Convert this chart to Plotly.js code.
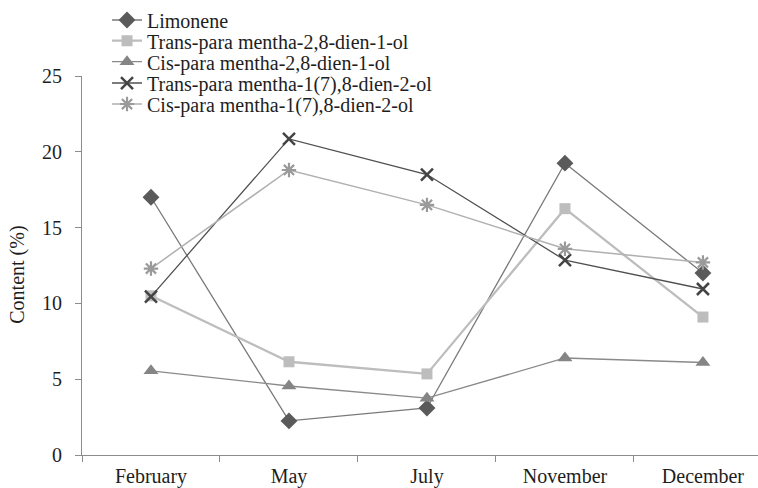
<!DOCTYPE html>
<html><head><meta charset="utf-8">
<script src="https://cdn.plot.ly/plotly-3.0.1.min.js"></script>
<style>html,body{margin:0;padding:0;overflow:hidden;background:#fff}</style>
</head><body><div id="chart" style="width:758px;height:488px"></div>
<script>
const months = ["February", "May", "July", "November", "December"];
const limonene = [17.0, 2.25, 3.1, 19.25, 12.0];
const transDien1ol = [10.5, 6.15, 5.35, 16.25, 9.1];
const cisDien1ol = [5.55, 4.55, 3.75, 6.4, 6.1];
const transDien2ol = [10.45, 20.85, 18.5, 12.85, 10.95];
const cisDien2ol = [12.3, 18.8, 16.5, 13.6, 12.7];
const seriesNames = [
  "Limonene",
  "Trans-para mentha-2,8-dien-1-ol",
  "Cis-para mentha-2,8-dien-1-ol",
  "Trans-para mentha-1(7),8-dien-2-ol",
  "Cis-para mentha-1(7),8-dien-2-ol"
];
const yTicks = [0, 5, 10, 15, 20, 25];

const font = "Liberation Serif, Times New Roman, serif";
const txt = "#1e1e1e";
const traces = [
  {x: months, y: limonene, name: seriesNames[0], legend: "legend", mode: "lines+markers",
   line: {color: "#7a7a7a", width: 1.3},
   marker: {symbol: "diamond", size: 13, color: "#5a5a5a"}},
  {x: months, y: transDien1ol, name: seriesNames[1], legend: "legend2", mode: "lines+markers",
   line: {color: "#bdbdbd", width: 2.3},
   marker: {symbol: "square", size: 11, color: "#bdbdbd"}},
  {x: months, y: cisDien1ol, name: seriesNames[2], legend: "legend3", mode: "lines+markers",
   line: {color: "#8a8a8a", width: 1.3},
   marker: {symbol: "triangle-up", size: 13, color: "#858585"}},
  {x: months, y: transDien2ol, name: seriesNames[3], legend: "legend4", mode: "lines+markers",
   line: {color: "#505050", width: 1.3},
   marker: {symbol: "x-thin-open", size: 12, color: "#444444", line: {width: 2.5, color: "#444444"}}},
  {x: months, y: cisDien2ol, name: seriesNames[4], legend: "legend5", mode: "lines+markers",
   line: {color: "#b0b0b0", width: 1.5},
   marker: {symbol: "asterisk-open", size: 12, color: "#9a9a9a", line: {width: 2.2, color: "#9a9a9a"}}}
];

function leg(y) {
  return {x: 0.037, y: y, xanchor: "left", yanchor: "middle",
          bgcolor: "rgba(0,0,0,0)", font: {family: font, size: 20, color: txt}};
}

const layout = {
  width: 758, height: 488,
  margin: {l: 82, r: 0, t: 76, b: 33},
  paper_bgcolor: "#fff", plot_bgcolor: "#fff",
  font: {family: font, size: 20, color: txt},
  showlegend: true,
  legend: leg(1.1478), legend2: leg(1.0931), legend3: leg(1.0377),
  legend4: leg(0.9815), legend5: leg(0.9261),
  xaxis: {type: "category", range: [-0.5, 4.399], tickson: "boundaries",
          showline: true, linecolor: "#8c8c8c", linewidth: 1,
          ticks: "outside", ticklen: 6, tickcolor: "#8c8c8c",
          ticklabelstandoff: 3,
          showgrid: false, zeroline: false,
          tickfont: {family: font, size: 20, color: txt}},
  yaxis: {range: [0, 25], tickvals: yTicks,
          showline: true, linecolor: "#8c8c8c", linewidth: 1,
          ticks: "outside", ticklen: 6, tickcolor: "#8c8c8c",
          ticklabelstandoff: 9,
          showgrid: false, zeroline: false,
          tickfont: {family: font, size: 20, color: txt}},
  annotations: [{text: "Content (%)", textangle: -90, showarrow: false,
                 xref: "paper", yref: "paper", x: -0.095, y: 0.475,
                 xanchor: "center", yanchor: "middle",
                 font: {family: font, size: 20, color: txt}}]
};
Plotly.newPlot("chart", traces, layout, {displayModeBar: false, staticPlot: true});
</script></body></html>
